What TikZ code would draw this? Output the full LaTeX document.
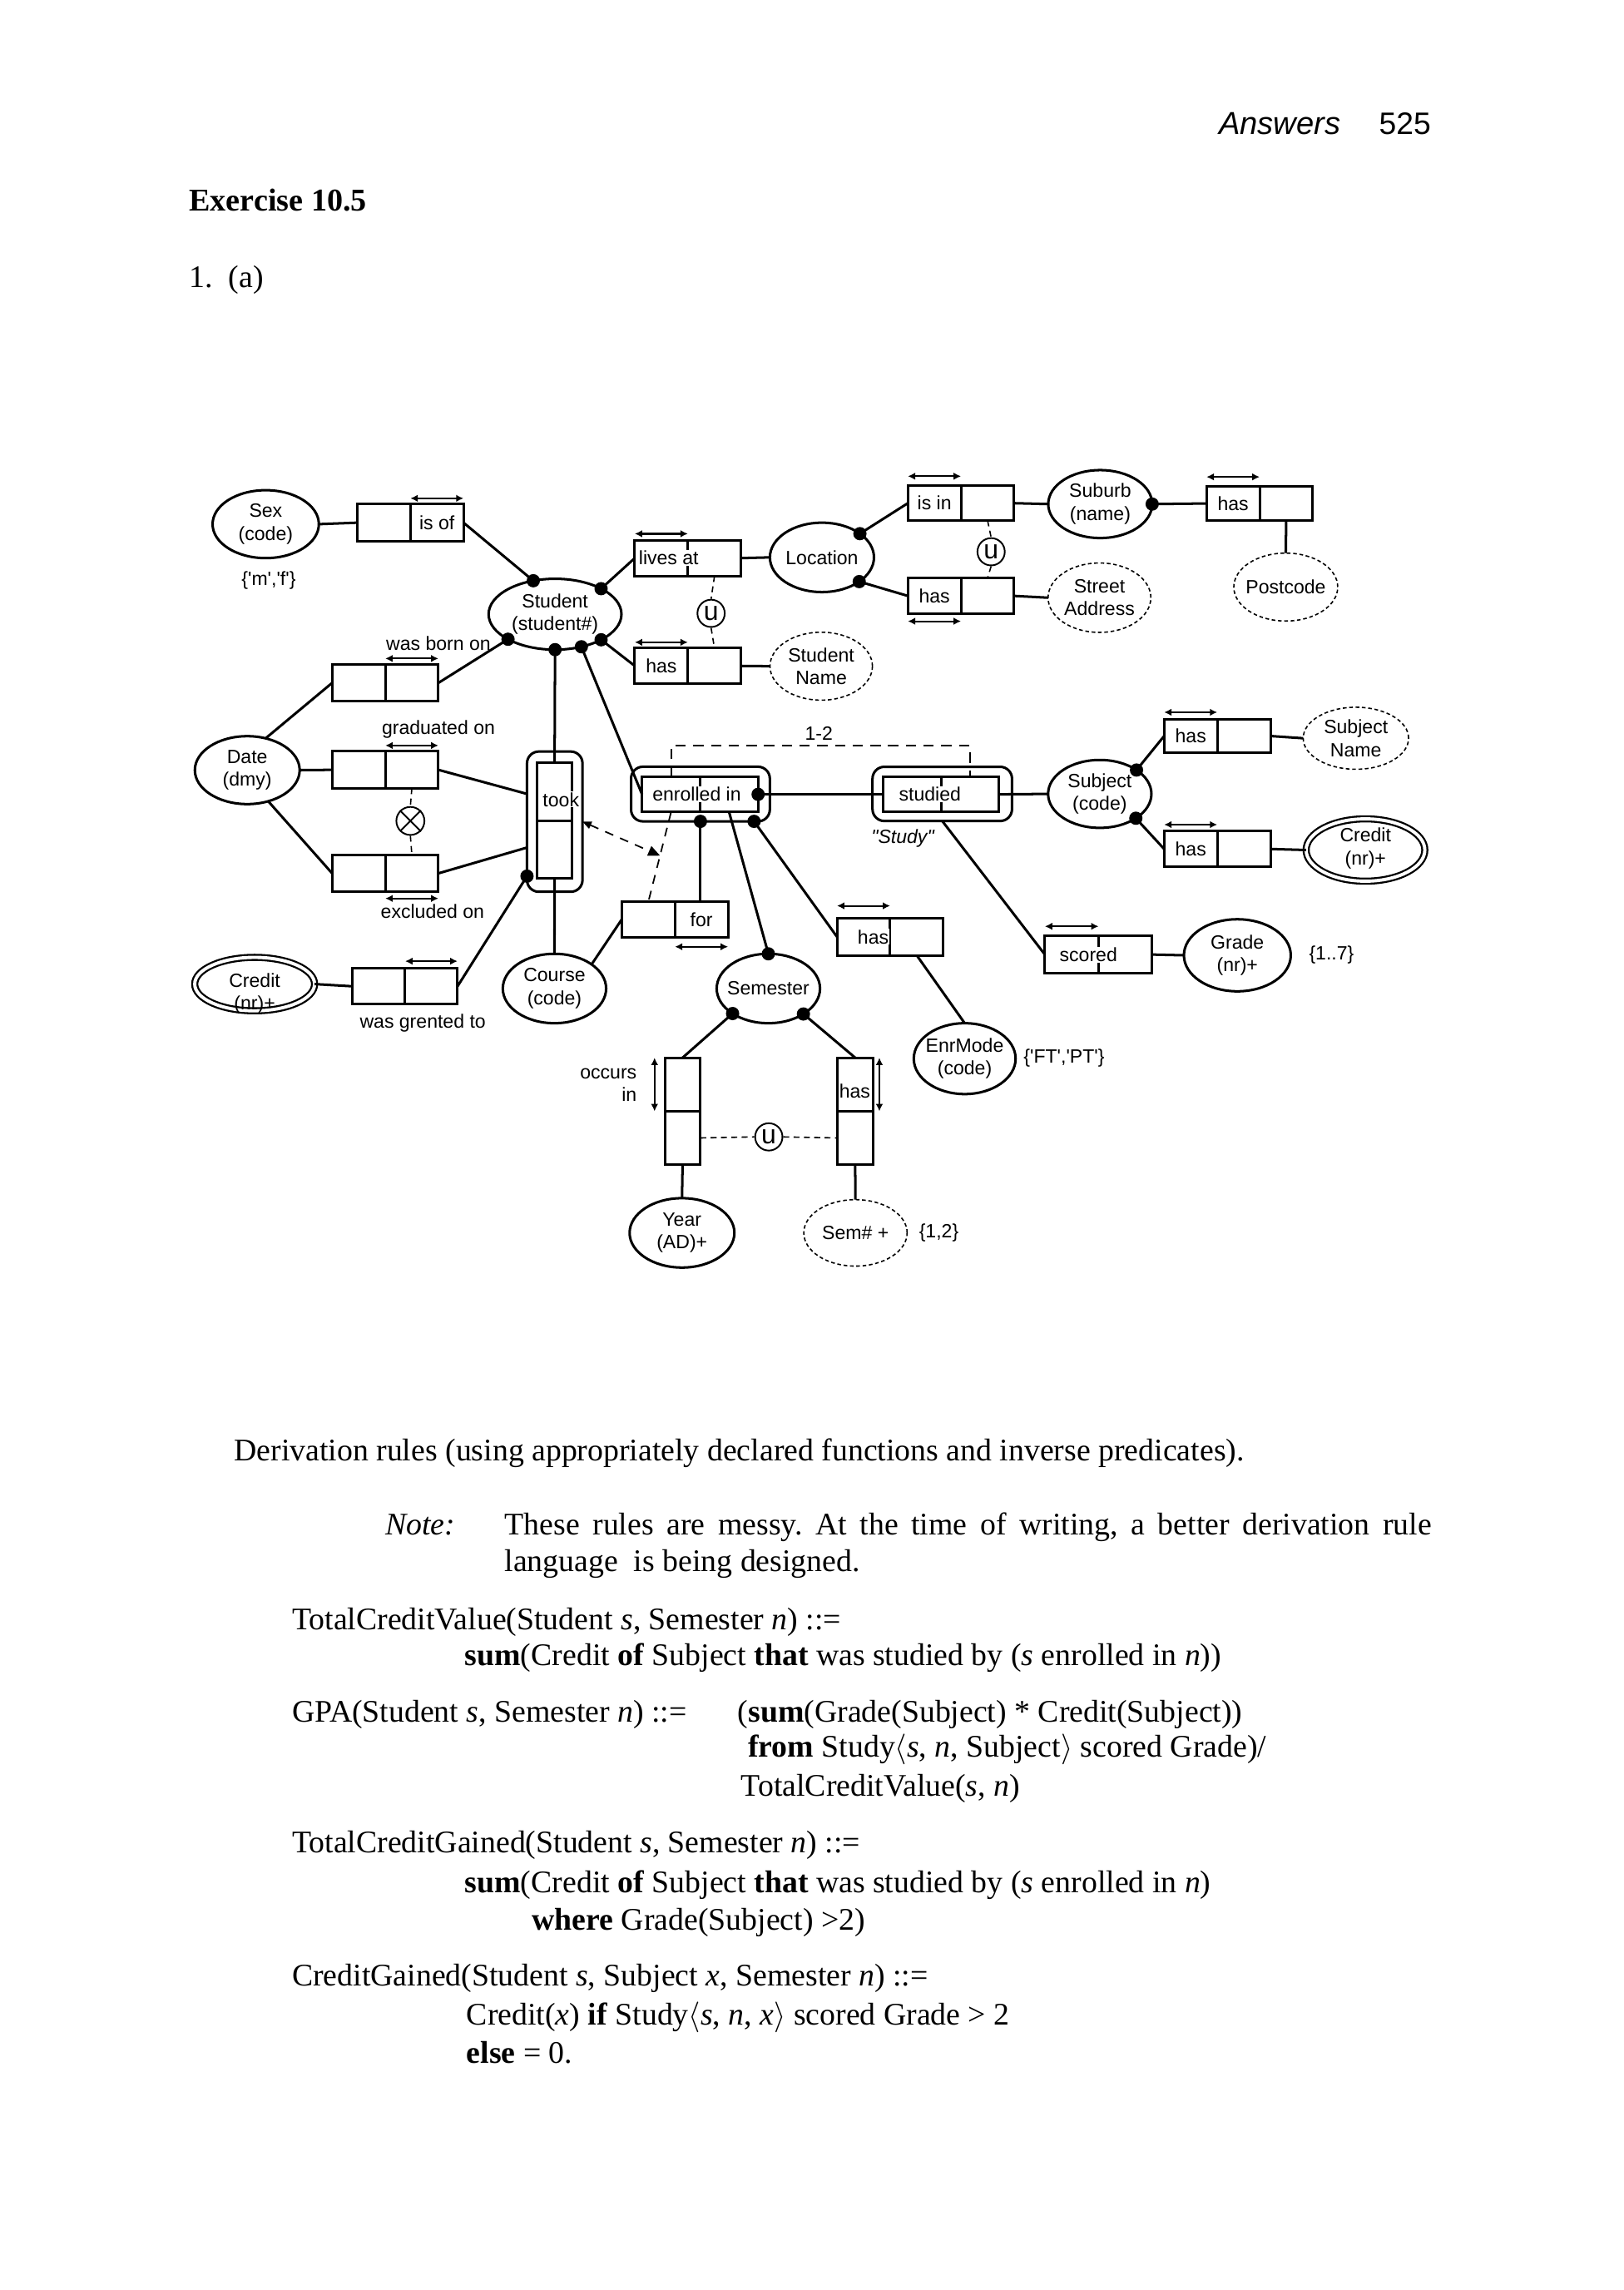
\documentclass[tikz,border=0pt]{standalone}
\usepackage{fontspec}
\setmainfont{Liberation Serif}
\newfontfamily\dsans{Liberation Sans}
\usetikzlibrary{shapes.geometric,arrows.meta,calc}
\newcommand\dgm{\dsans\fontsize{13}{15.5}\selectfont}
\newcommand\bodyf{\fontsize{21.3}{25.5}\selectfont}
\newcommand\ormobj[7]{\node[#6, minimum width=#4pt, minimum height=#5pt] (#1) at (#2,#3) {};
  \node[dtext] at (#1.center) {#7};}
\newcommand\ormcell[5]{\node[cellbox, minimum width=#4pt, minimum height=#5pt] (#1) at (#2,#3) {};}
\newcommand\uabove[2]{\draw[ucarrow] ([yshift=#2pt]#1.north west) -- ([yshift=#2pt]#1.north east);}
\newcommand\ubelow[2]{\draw[ucarrow] ([yshift=-#2pt]#1.south west) -- ([yshift=-#2pt]#1.south east);}
\newcommand\uleft[2]{\draw[ucarrow] ([xshift=-#2pt]#1.north west) -- ([xshift=-#2pt]#1.south west);}
\newcommand\uright[2]{\draw[ucarrow] ([xshift=#2pt]#1.north east) -- ([xshift=#2pt]#1.south east);}
\newcommand\mdot[1]{\fill (#1) circle[radius=4.5pt];}
\frenchspacing
\begin{document}
\begin{tikzpicture}[x=1pt,y=-1pt,
  conn/.style={line width=1.7pt},
  cellbox/.style={rectangle, draw, line width=1.7pt, inner sep=0pt, outer sep=0pt},
  nestbox/.style={rectangle, draw, line width=1.7pt, rounded corners=8pt, inner sep=0pt, outer sep=0pt},
  entity/.style={ellipse, draw, line width=1.7pt, inner sep=0pt, outer sep=0pt},
  valtype/.style={ellipse, draw, line width=0.9pt, dash pattern=on 2.5pt off 1.8pt, inner sep=0pt, outer sep=0pt},
  dblent/.style={ellipse, draw, line width=1.3pt, double, double distance=2.2pt, inner sep=0pt, outer sep=0pt},
  dtext/.style={font=\dgm, align=center, inner sep=0pt},
  ctext/.style={font=\dgm, inner sep=0.6pt, fill=white},
  ucarrow/.style={line width=1.2pt, {Latex[length=5pt,width=5pt]}-{Latex[length=5pt,width=5pt]}},
  cdash/.style={line width=0.9pt, dash pattern=on 4pt off 3pt},
  ucirc/.style={circle, draw, line width=1.1pt, minimum size=18.5pt, inner sep=0pt, font=\dsans\fontsize{18}{18}\selectfont},
  body/.style={anchor=base west, inner sep=0pt, font=\bodyf}
]
\useasboundingbox (0,0) rectangle (1100,1551);
\fill[white] (0,0) rectangle (1100,1551);

% ---------- header ----------
\node[anchor=base west, inner sep=0pt, font=\dsans\itshape\fontsize{21.5}{24}\selectfont] (hdrA) at (825.6,91) {Answers};
\node[anchor=base west, inner sep=0pt, font=\dsans\fontsize{21}{24}\selectfont] (hdrN) at (934,91) {525};
\node[anchor=base west, inner sep=0pt, font=\bfseries\fontsize{21.5}{24}\selectfont] (exer) at (128,142.8) {Exercise 10.5};
\node[body] (qone) at (128,194.5) {1.\ \ (a)};

% ---------- object types ----------
\ormobj{Sex}{180}{355}{72}{46}{entity}{Sex\\(code)}
\ormobj{Student}{376}{416}{90}{48}{entity}{Student\\(student\#)}
\ormobj{Date}{167.5}{521.6}{71}{46}{entity}{Date\\(dmy)}
\ormobj{Course}{375.6}{669.5}{70}{47}{entity}{Course\\(code)}
\node[dblent, minimum width=81.2pt, minimum height=36.2pt] (Credit1) at (172.5,666.5) {};
\node[dtext] (Credit1t) at (172.5,673) {Credit\\(nr)+};
\ormobj{Location}{556.8}{377.5}{70.5}{47}{entity}{Location}
\ormobj{StudentName}{556.3}{451.2}{69.4}{46}{valtype}{Student\\Name}
\ormobj{Suburb}{745.3}{341.4}{70.4}{46}{entity}{Suburb\\(name)}
\ormobj{StreetAddress}{744.8}{404.8}{69.6}{47}{valtype}{Street\\Address}
\ormobj{Postcode}{871}{397.6}{70.4}{46}{valtype}{Postcode}
\ormobj{SubjectName}{918.5}{500}{71.4}{42}{valtype}{Subject\\Name}
\ormobj{Subject}{745}{537.7}{70}{46}{entity}{Subject\\(code)}
\node[dblent, minimum width=80.4pt, minimum height=42.2pt] (Credit2) at (925,575.7) {};
\node[dtext] (Credit2t) at (925,574.5) {Credit\\(nr)+};
\ormobj{Grade}{838.2}{647}{72.4}{48.8}{entity}{Grade\\(nr)+}
\ormobj{Semester}{520.5}{669.5}{70}{47}{entity}{Semester}
\ormobj{EnrMode}{653.5}{717}{69}{48}{entity}{EnrMode\\(code)}
\ormobj{Year}{462}{835}{71}{47}{entity}{Year\\(AD)+}
\ormobj{SemNum}{579.5}{835}{70}{45}{valtype}{Sem\# +}

% ---------- fact types (role boxes) ----------
\ormcell{isofL}{260}{354}{36}{25}\ormcell{isofR}{296}{354}{36}{25}
\ormcell{wasbornL}{243}{462.5}{36}{25}\ormcell{wasbornR}{279}{462.5}{36}{25}
\ormcell{gradL}{243}{521.4}{36}{25}\ormcell{gradR}{279}{521.4}{36}{25}
\ormcell{exclL}{243}{591.5}{36}{25}\ormcell{exclR}{279}{591.5}{36}{25}
\ormcell{grantL}{256.7}{668}{35.5}{24}\ormcell{grantR}{292.2}{668}{35.5}{24}
\node[nestbox, minimum width=37.6pt, minimum height=95pt] (tookO) at (375.8,556.5) {};
\ormcell{tookU}{375.7}{536.4}{24}{39.5}\ormcell{tookD}{375.7}{575.6}{24}{39}
\ormcell{livesL}{448}{378}{36}{24.4}\ormcell{livesR}{484}{378}{36}{24.4}
\ormcell{hasSNL}{448}{451}{36}{24}\ormcell{hasSNR}{484}{451}{36}{24}
\ormcell{isinL}{633}{340.8}{36}{23.5}\ormcell{isinR}{669}{340.8}{36}{23.5}
\ormcell{hasSAL}{633}{403.6}{36}{24.3}\ormcell{hasSAR}{669}{403.6}{36}{24.3}
\ormcell{hasPCL}{835.3}{341}{36}{23}\ormcell{hasPCR}{871.3}{341}{36}{23}
\ormcell{hasSubNL}{806.6}{498.5}{36}{23}\ormcell{hasSubNR}{842.6}{498.5}{36}{23}
\ormcell{hasCrL}{806.6}{575}{36}{24}\ormcell{hasCrR}{842.6}{575}{36}{24}
\node[nestbox, minimum width=94pt, minimum height=37pt] (enrO) at (474.5,537.8) {};
\ormcell{enrL}{454.6}{538}{39.3}{24}\ormcell{enrR}{493.9}{538}{39.3}{24}
\node[nestbox, minimum width=94.5pt, minimum height=36.7pt] (studO) at (638.3,537.7) {};
\ormcell{studL}{618}{538}{39}{24}\ormcell{studR}{657}{538}{39}{24}
\ormcell{forL}{439.2}{622.7}{36}{24}\ormcell{forR}{475.2}{622.7}{36}{24}
\ormcell{hasEML}{585}{634.5}{36}{25}\ormcell{hasEMR}{621}{634.5}{36}{25}
\ormcell{scoredL}{726}{646.5}{36.4}{25}\ormcell{scoredR}{762.2}{646.5}{36}{25}
\ormcell{occU}{462.4}{734.5}{24}{36.3}\ormcell{occD}{462.4}{770.7}{24}{36}
\ormcell{hasSemU}{579.3}{734.5}{24}{36.3}\ormcell{hasSemD}{579.3}{770.7}{24}{36}

% ---------- texts in role boxes ----------
\node[ctext] (tIsof) at (isofR) {is of};
\node[ctext] (tLives) at (453,378) {lives at};
\node[ctext] (tHasSN) at (hasSNL) {has};
\node[ctext] (tIsin) at (isinL) {is in};
\node[ctext] (tHasSA) at (hasSAL) {has};
\node[ctext] (tHasPC) at (hasPCL) {has};
\node[ctext] (tHasSubN) at (hasSubNL) {has};
\node[ctext] (tHasCr) at (hasCrL) {has};
\node[ctext] (tTook) at (380,541.5) {took};
\node[ctext] (tEnr) at (472,538) {enrolled in};
\node[ctext] (tStud) at (630,538) {studied};
\node[ctext] (tFor) at (forR) {for};
\node[ctext] (tHasEM) at (591.5,634.5) {has};
\node[ctext] (tScored) at (737.3,646.5) {scored};
\node[ctext] (tHasSem) at (579,739) {has};

% ---------- labels ----------
\node[dtext] (lmf) at (182,393) {\{'m','f'\}};
\node[dtext] (lborn) at (297,436) {was born on};
\node[dtext] (lgrad) at (297,494) {graduated on};
\node[dtext] (lexcl) at (293,617) {excluded on};
\node[dtext] (lgrant) at (286.4,693) {was grented to};
\node[dtext] (lfreq) at (554.7,496.7) {1-2};
\node[dtext, font=\dgm\itshape] (lstudy) at (611.5,568) {"Study"};
\node[dtext] (lftpt) at (720.8,716.6) {\{'FT','PT'\}};
\node[dtext] (lgr) at (902,647) {\{1..7\}};
\node[dtext] (lsem) at (636,835) {\{1,2\}};
\node[dtext, align=right, anchor=east] (locc) at (431.5,734.8) {occurs\\in};

% ---------- connectors ----------
\draw[conn] (Sex.east) -- (isofL.west);
\draw[conn] (isofR.east) -- (Student.123);
\draw[conn] (Student.29.6) -- (livesL.west);
\draw[conn] (Student.208.7) -- (wasbornR.east);
\draw[conn] (wasbornL.west) -- (Date.60);
\draw[conn] (Date.east) -- (gradL.west);
\draw[conn] (gradR.east) -- (tookO.135.5);
\draw[conn] (Date.304) -- (exclL.west);
\draw[conn] (exclR.east) -- (tookO.223.9);
\draw[conn] (Credit1.east) -- (grantL.west);
\draw[conn] (grantR.east) -- (tookO.243.3);
\draw[conn] (Student.270) -- (tookU.north);
\draw[conn] (tookD.south) -- (Course.north);
\draw[conn] (forL.west) -- (Course.33.2);
\draw[conn] (Student.309) -- (enrL.west);
\draw[conn] (Student.331.8) -- (hasSNL.west);
\draw[conn] (hasSNR.east) -- (StudentName.west);
\draw[conn] (livesR.east) -- (Location.west);
\draw[conn] (Location.32.4) -- (isinL.west);
\draw[conn] (Location.327.6) -- (hasSAL.west);
\draw[conn] (isinR.east) -- (Suburb.west);
\draw[conn] (hasSAR.east) -- (StreetAddress.west);
\draw[conn] (Suburb.east) -- (hasPCL.west);
\draw[conn] (hasPCR.south) -- (Postcode.north);
\draw[conn] (enrR.east) -- (studL.west);
\draw[conn] (studR.east) -- (Subject.west);
\draw[conn] (Subject.33.5) -- (hasSubNL.west);
\draw[conn] (Subject.326.7) -- (hasCrL.west);
\draw[conn] (hasSubNR.east) -- (SubjectName.west);
\draw[conn] (hasCrR.east) -- (Credit2.west);
\draw[conn] (studO.south) -- (scoredL.west);
\draw[conn] (scoredR.east) -- (Grade.west);
\draw[conn] (enrO.south) -- (enrO.south |- forR.north);
\draw[conn] (enrR.south) -- (Semester.north);
\draw[conn] (enrO.333.6) -- (hasEML.west);
\draw[conn] (hasEMR.south) -- (EnrMode.north);
\draw[conn] (Semester.215.5) -- (occU.north);
\draw[conn] (Semester.324.5) -- (hasSemU.north);
\draw[conn] (occD.south) -- (Year.north);
\draw[conn] (hasSemD.south) -- (SemNum.north);

% ---------- mandatory dots ----------
\mdot{Student.123}\mdot{Student.29.6}\mdot{Student.208.7}\mdot{Student.270}
\mdot{Student.309}\mdot{Student.331.8}
\mdot{Location.32.4}\mdot{Location.327.6}\mdot{Suburb.east}
\mdot{tookO.243.3}\mdot{enrR.east}\mdot{enrO.south}\mdot{enrO.333.6}
\mdot{Subject.33.5}\mdot{Subject.326.7}
\mdot{Semester.north}\mdot{Semester.215.5}\mdot{Semester.324.5}

% ---------- uniqueness arrows ----------
\uabove{isofR}{4}\uabove{wasbornR}{4}\uabove{gradR}{4}\ubelow{exclR}{4.5}
\uabove{grantR}{5}\uabove{livesL}{4.3}\uabove{hasSNL}{4}\uabove{isinL}{6.5}
\ubelow{hasSAL}{5}\uabove{hasPCL}{6.5}\uabove{hasSubNL}{4.6}\uabove{hasCrL}{4.5}
\ubelow{forR}{6.5}\uabove{hasEML}{8.5}\uabove{scoredL}{6.6}
\uleft{occU}{7}\uright{hasSemU}{4.4}

% ---------- external constraints ----------
\node[ucirc] (U1) at (481.7,415.4) {u};
\node[ucirc] (U2) at (671.4,373.7) {u};
\node[ucirc] (U3) at (520.8,770) {u};
\node[ucirc, minimum size=19pt] (Xc) at (278,556) {};
\draw[line width=1.1pt] (Xc.45) -- (Xc.225) (Xc.135) -- (Xc.315);
\draw[cdash] (livesR.south) -- (U1.north);
\draw[cdash] (U1.south) -- (hasSNR.north);
\draw[cdash] (isinR.south) -- (U2.north);
\draw[cdash] (U2.south) -- (hasSAR.north);
\draw[cdash] (gradR.south) -- (Xc.north);
\draw[cdash] (Xc.south) -- (exclR.north);
\draw[cdash] (occD.east) -- (U3.west);
\draw[cdash] (U3.east) -- (hasSemD.west);
% frequency constraint bracket
\draw[line width=1pt, dash pattern=on 7pt off 5pt] (enrL.north) -- ++(0,-21) -| (studR.north);
% subset constraint
\draw[line width=1pt, dash pattern=on 6pt off 5pt] (enrL.south) -- (forL.north);
\coordinate (J) at ($(enrL.south)!0.486!(forL.north)$);
\draw[line width=1pt, dash pattern=on 6pt off 5pt, {Triangle[length=6pt,width=5pt]}-{Triangle[length=8pt,width=7pt]}] (tookO.east) -- (J);

% ---------- derivation rules ----------
\node[body] (r0) at (158.4,989.6) {Derivation rules (using appropriately declared functions and inverse predicates).};
\node[body] (r1a) at (260.8,1039.6) {\textit{Note:}};
\node[body] (r1b) at (341.7,1039.6) {\makebox[628pt][s]{These rules are messy. At the time of writing, a better derivation rule}};
\node[body] (r1c) at (341.7,1064.1) {language\ \ is being designed.};
\node[body] (r2) at (197.7,1103.6) {TotalCreditValue(Student \textit{s}, Semester \textit{n}) ::=};
\node[body] (r3) at (314.7,1128) {\textbf{sum}(Credit \textbf{of} Subject \textbf{that} was studied by (\textit{s} enrolled in \textit{n}))};
\node[body] (r4) at (197.7,1166.5) {GPA(Student \textit{s}, Semester \textit{n}) ::=};
\node[body] (r4b) at (499.6,1166.5) {(\textbf{sum}(Grade(Subject) * Credit(Subject))};
\node[body] (r5) at (506.6,1190) {\textbf{from} Study$\langle$\textit{s}, \textit{n}, Subject$\rangle$ scored Grade)/};
\node[body] (r6) at (501.8,1216.3) {TotalCreditValue(\textit{s}, \textit{n})};
\node[body] (r7) at (197.7,1254.8) {TotalCreditGained(Student \textit{s}, Semester \textit{n}) ::=};
\node[body] (r8) at (314.7,1282) {\textbf{sum}(Credit \textbf{of} Subject \textbf{that} was studied by (\textit{s} enrolled in \textit{n})};
\node[body] (r9) at (360.2,1307.4) {\textbf{where} Grade(Subject) >2)};
\node[body] (r10) at (197.7,1345) {CreditGained(Student \textit{s}, Subject \textit{x}, Semester \textit{n}) ::=};
\node[body] (r11) at (315.9,1371.3) {Credit(\textit{x}) \textbf{if} Study$\langle$\textit{s}, \textit{n}, \textit{x}$\rangle$ scored Grade > 2};
\node[body] (r12) at (315.9,1397.6) {\textbf{else} = 0.};
\end{tikzpicture}
\end{document}
